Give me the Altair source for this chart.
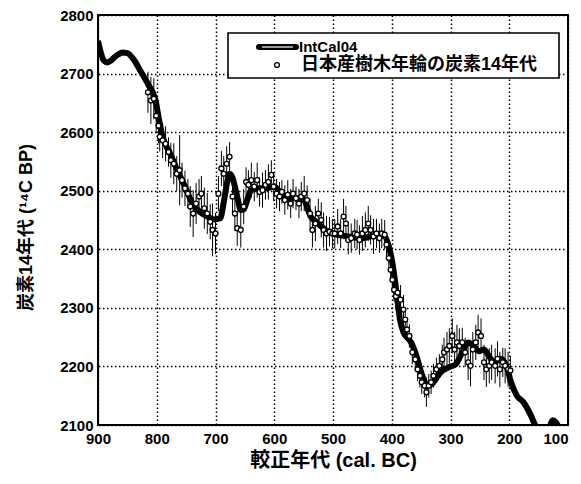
import altair as alt
import pandas as pd

# IntCal04 calibration curve (cal. BC, 14C BP)
curve_years = [900, 895, 890, 884, 878, 872, 865, 859, 850, 840, 828, 815, 802, 796, 790,
               777, 765, 752, 739, 727, 714, 702, 692, 686, 680, 676, 671, 667, 662, 657,
               652, 648, 639, 626, 613, 600, 588, 576, 563, 550, 538, 525, 513, 500, 475,
               450, 424, 412, 405, 398, 392, 386, 380, 367, 358, 348, 339, 329, 317, 304,
               291, 280, 270, 261, 252, 243, 233, 225, 215, 205, 197, 187, 176, 163, 156,
               148, 140, 132, 126, 120, 112, 100]
curve_c14 = [2756, 2735, 2722, 2719, 2722, 2728, 2733, 2736, 2735, 2725, 2705, 2682, 2654, 2620, 2592,
             2563, 2535, 2507, 2478, 2464, 2456, 2451, 2453, 2480, 2515, 2529, 2522, 2507, 2485, 2467,
             2468, 2478, 2501, 2504, 2504, 2507, 2495, 2487, 2487, 2484, 2456, 2444, 2433, 2427, 2422,
             2419, 2425, 2422, 2405, 2371, 2326, 2280, 2258, 2241, 2218, 2184, 2167, 2173, 2190, 2198,
             2204, 2224, 2241, 2235, 2226, 2229, 2215, 2207, 2213, 2201, 2173, 2150, 2139, 2116, 2100,
             2090, 2085, 2095, 2108, 2104, 2090, 2085]

# Japanese tree-ring 14C ages
obs_years = [815, 810, 805, 801, 797, 795, 790, 785, 780, 776, 771, 766, 761, 757, 752,
             747, 743, 738, 733, 728, 724, 719, 714, 709, 705, 700, 695, 690, 686, 681,
             676, 671, 667, 663, 657, 652, 648, 644, 639, 634, 629, 625, 620, 615, 610,
             605, 601, 596, 591, 587, 582, 577, 572, 568, 563, 558, 554, 549, 544, 539,
             535, 530, 525, 520, 516, 511, 506, 501, 497, 492, 487, 482, 478, 474, 469,
             463, 459, 455, 450, 445, 440, 436, 431, 426, 421, 417, 412, 409, 405, 402,
             399, 396, 393, 390, 385, 380, 377, 374, 370, 365, 360, 356, 352, 349, 344,
             341, 337, 333, 329, 324, 319, 314, 311, 306, 302, 297, 293, 289, 285, 280,
             275, 270, 266, 262, 257, 253, 248, 243, 239, 234, 230, 224, 220, 216, 211,
             207, 202, 198]
obs_c14 = [2668, 2654, 2657, 2628, 2611, 2592, 2586, 2580, 2566, 2552, 2546, 2529, 2535, 2518, 2504,
           2495, 2473, 2461, 2478, 2490, 2495, 2470, 2461, 2447, 2433, 2427, 2495, 2538, 2529, 2546,
           2558, 2490, 2461, 2436, 2433, 2473, 2515, 2510, 2518, 2507, 2518, 2498, 2501, 2510, 2515,
           2527, 2507, 2495, 2490, 2498, 2484, 2493, 2478, 2495, 2487, 2478, 2490, 2495, 2484, 2461,
           2433, 2444, 2461, 2450, 2433, 2427, 2430, 2427, 2427, 2439, 2427, 2456, 2444, 2416, 2419,
           2427, 2425, 2416, 2427, 2433, 2444, 2433, 2422, 2427, 2419, 2427, 2425, 2408, 2385, 2365,
           2348, 2331, 2320, 2326, 2314, 2297, 2280, 2263, 2252, 2224, 2212, 2195, 2184, 2173, 2167,
           2156, 2167, 2173, 2184, 2195, 2201, 2212, 2224, 2229, 2235, 2252, 2229, 2241, 2235, 2241,
           2224, 2207, 2201, 2229, 2241, 2258, 2252, 2207, 2195, 2201, 2207, 2201, 2213, 2195, 2207,
           2201, 2195, 2193]
obs_err = [35, 40, 35, 30, 30, 25, 30, 30, 25, 30, 35, 30, 60, 30, 30,
           25, 35, 40, 35, 30, 30, 35, 35, 30, 45, 35, 30, 30, 30, 30,
           25, 30, 30, 30, 30, 30, 25, 25, 30, 25, 30, 25, 30, 25, 30,
           25, 25, 25, 25, 20, 25, 25, 25, 25, 20, 25, 25, 30, 25, 25,
           30, 30, 25, 30, 30, 30, 25, 25, 25, 30, 25, 30, 30, 25, 25,
           25, 25, 25, 30, 30, 30, 25, 30, 25, 25, 25, 25, 20, 20, 20,
           20, 20, 20, 20, 25, 25, 20, 20, 20, 20, 20, 20, 20, 20, 20,
           25, 20, 20, 20, 20, 20, 25, 25, 30, 30, 30, 30, 30, 30, 25,
           25, 30, 35, 30, 30, 30, 30, 30, 30, 30, 30, 30, 30, 30, 25,
           30, 30, 25]

x_ticks = [900, 800, 700, 600, 500, 400, 300, 200, 100]
y_ticks = [2100, 2200, 2300, 2400, 2500, 2600, 2700, 2800]
legend_labels = ["IntCal04", "日本産樹木年輪の炭素14年代"]
x_title = "較正年代 (cal. BC)"
y_title = "炭素14年代 (¹⁴C BP)"

FONT = "Liberation Sans, Noto Sans CJK JP, sans-serif"

curve_df = pd.DataFrame({"year": curve_years, "c14": curve_c14})
obs_df = pd.DataFrame({"year": obs_years, "c14": obs_c14, "err": obs_err})
obs_df["lo"] = obs_df["c14"] - obs_df["err"]
obs_df["hi"] = obs_df["c14"] + obs_df["err"]

xs = alt.Scale(domain=[100, 900], reverse=True, nice=False)
ys = alt.Scale(domain=[2100, 2800], nice=False)

common_axis = dict(grid=True, ticks=False, domain=False, labelFont=FONT, labelFontSize=15,
                   labelFontWeight="bold", labelColor="black", labelFlush=False, format="d",
                   titleFont=FONT, titleFontWeight="bold", titleColor="black",
                   gridColor="black", gridDash=[1.5, 2.5], gridWidth=1.5, gridOpacity=1)

x_axis = alt.Axis(values=x_ticks, title=x_title, labelPadding=6, titlePadding=4,
                  titleFontSize=20,
                  labelAlign=alt.ExprRef(expr="datum.value == 100 ? 'right' : 'center'"),
                  labelBound=False, **common_axis)
y_axis = alt.Axis(values=y_ticks, title=y_title, labelPadding=5, titlePadding=24,
                  titleFontSize=18, titleY=212, **common_axis)

curve = alt.Chart(curve_df).mark_line(color="black", strokeWidth=6, clip=True,
                                      interpolate="monotone").encode(
    x=alt.X("year:Q", scale=xs, axis=x_axis),
    y=alt.Y("c14:Q", scale=ys, axis=y_axis),
    order="year:Q",
)

bars = alt.Chart(obs_df).mark_rule(color="black", strokeWidth=1).encode(
    x=alt.X("year:Q", scale=xs),
    y=alt.Y("lo:Q", scale=ys),
    y2="hi:Q",
)

pts = alt.Chart(obs_df).mark_point(shape="circle", filled=True, fill="white", stroke="black",
                                   strokeWidth=1.3, size=24, opacity=1).encode(
    x=alt.X("year:Q", scale=xs),
    y=alt.Y("c14:Q", scale=ys),
)

one = alt.Data(values=[{}])
leg_box = alt.Chart(one).mark_rect(fill="white", stroke="black", strokeWidth=1.6).encode(
    x=alt.value(130), x2=alt.value(461), y=alt.value(18), y2=alt.value(63))
leg_line = alt.Chart(one).mark_rule(color="black", strokeWidth=6, strokeCap="round").encode(
    x=alt.value(161), x2=alt.value(198), y=alt.value(32))
leg_line_in = alt.Chart(one).mark_rule(color="white", strokeWidth=1.2).encode(
    x=alt.value(164), x2=alt.value(195), y=alt.value(32))
leg_pt = alt.Chart(one).mark_point(shape="circle", filled=True, fill="white", stroke="black",
                                   strokeWidth=1.3, size=24, opacity=1).encode(
    x=alt.value(179), y=alt.value(50))
leg_t1 = alt.Chart(one).mark_text(text=legend_labels[0], align="left", baseline="middle",
                                  font=FONT, fontSize=15, fontWeight="bold", color="black").encode(
    x=alt.value(201), y=alt.value(32))
leg_t2 = alt.Chart(one).mark_text(text=legend_labels[1], align="left", baseline="middle",
                                  font=FONT, fontSize=18, fontWeight="bold", color="black").encode(
    x=alt.value(203), y=alt.value(50))

chart = alt.layer(curve, bars, pts, leg_box, leg_line, leg_line_in, leg_pt, leg_t1, leg_t2).properties(
    width=470, height=410,
    padding={"left": 90, "top": 7, "right": 5, "bottom": 50},
    autosize=alt.AutoSizeParams(type="none"),
    background="white",
).configure_view(stroke="black", strokeWidth=2)

chart.save("out.html", embed_options={"renderer": "svg", "actions": False})
